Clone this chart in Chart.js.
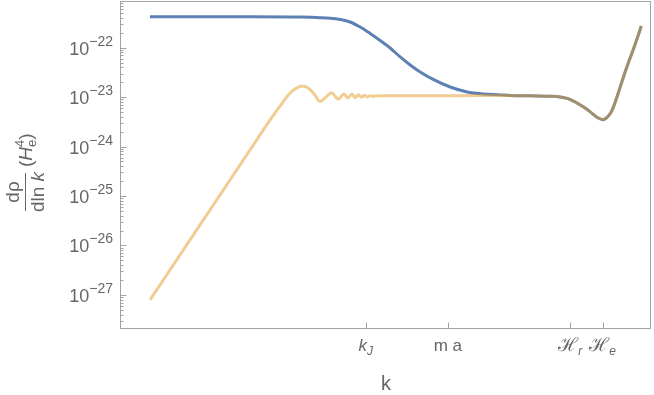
<!DOCTYPE html>
<html>
<head>
<meta charset="utf-8">
<script src="https://cdn.jsdelivr.net/npm/chart.js@4/dist/chart.umd.min.js"></script>
<style>
  html, body { margin: 0; padding: 0; background: #fff; }
  #wrap { width: 654px; height: 395px; }
</style>
</head>
<body>
<div id="wrap"><canvas id="energyChart" width="654" height="395"></canvas></div>
<script>
// log k, arbitrary units (0..10 over the frame)
const blueK = [0.565, 1.5, 2.5, 3.4, 3.77, 3.957, 4.145, 4.334, 4.522, 4.711, 4.899,
  5.088, 5.276, 5.465, 5.653, 5.898, 6.218, 6.539, 6.84, 7.16];
const blueRho = [4.2e-22, 4.2e-22, 4.2e-22, 4.15e-22, 4.05e-22, 3.95e-22, 3.72e-22, 3.31e-22,
  2.62e-22, 1.94e-22, 1.40e-22, 9.86e-23, 6.49e-23, 4.47e-23, 3.23e-23, 2.28e-23,
  1.60e-23, 1.27e-23, 1.16e-23, 1.11e-23];

const goldK = [0.565, 1.507, 2.45, 2.827, 3.015, 3.203, 3.316, 3.43, 3.543, 3.656, 3.769,
  3.882, 3.985, 4.108, 4.221, 4.287, 4.372, 4.428, 4.485, 4.551, 4.598, 4.654, 4.711,
  4.767, 4.899, 5.653, 6.407, 7.16];
const goldRho = [7.93e-28, 2.6e-26, 8.55e-25, 3.45e-24, 6.62e-24, 1.21e-23, 1.5e-23, 1.68e-23,
  1.53e-23, 1.16e-23, 8.17e-24, 1.01e-23, 1.23e-23, 9.18e-24, 1.16e-23, 9.62e-24,
  1.14e-23, 9.75e-24, 1.11e-23, 9.93e-24, 1.09e-23, 1.01e-23, 1.07e-23, 1.04e-23,
  1.06e-23, 1.06e-23, 1.07e-23, 1.08e-23];

// both curves coincide from here on
const tailK = [7.349, 7.726, 8.103, 8.291, 8.423, 8.574, 8.724, 8.856, 8.988, 9.101,
  9.158, 9.214, 9.271, 9.327, 9.384, 9.478, 9.572, 9.667, 9.742, 9.817];
const tailRho = [1.08e-23, 1.06e-23, 1.04e-23, 1.007e-23, 9.4e-24, 7.98e-24, 6.35e-24, 5.02e-24,
  3.88e-24, 3.5e-24, 3.79e-24, 4.36e-24, 5.5e-24, 7.98e-24, 1.21e-23, 2.49e-23, 4.91e-23,
  9.2e-23, 1.57e-22, 2.75e-22];

const xTickPos = [4.63, 6.175, 8.48, 9.09];
const xTickMain = ['k', 'm a', 'ℋ', 'ℋ'];
const xTickSub = ['J', '', 'r', 'e'];
const yTickExp = [-27, -26, -25, -24, -23, -22];

const yMin = Math.pow(10, -27.69);
const yMax = Math.pow(10, -21.056);

function toPoints(ks, vals) {
  return ks.map((k, i) => ({ x: k, y: vals[i] }));
}

const FONT = "'Liberation Sans', Arial, sans-serif";
const TXT = '#666666';
const FRAME = '#a3a3a3';

// draws a row of text pieces; pieces with adv:false don't move the pen
function drawRuns(ctx, parts, x, y, align) {
  let w = 0;
  parts.forEach(p => {
    ctx.font = p.f;
    p.w = ctx.measureText(p.t).width;
    if (p.adv !== false) w += p.w;
  });
  let cx = align === 'center' ? x - w / 2 : (align === 'right' ? x - w : x);
  ctx.textAlign = 'left';
  ctx.textBaseline = 'alphabetic';
  parts.forEach(p => {
    ctx.font = p.f;
    ctx.fillText(p.t, cx, y + (p.dy || 0));
    if (p.adv !== false) cx += p.w;
  });
  return w;
}

const framePlugin = {
  id: 'framePlugin',
  afterDraw(chart) {
    const { ctx, chartArea: a, scales } = chart;
    const xs = scales.x, ys = scales.y;
    const L = Math.round(a.left) + 0.5, R = Math.round(a.right) - 0.5;
    const T = Math.round(a.top) + 0.5, B = Math.round(a.bottom) - 0.5;
    ctx.save();
    ctx.strokeStyle = FRAME;
    ctx.lineWidth = 1;
    ctx.strokeRect(L, T, R - L, B - T);

    // y ticks (inward), minor at 2..9
    ctx.beginPath();
    for (let e = -28; e <= -22; e++) {
      for (let m = 2; m <= 9; m++) {
        const v = m * Math.pow(10, e);
        if (v <= ys.min || v >= ys.max) continue;
        const py = Math.round(ys.getPixelForValue(v)) + 0.5;
        ctx.moveTo(L, py); ctx.lineTo(L + 3, py);
      }
    }
    yTickExp.forEach(e => {
      const py = Math.round(ys.getPixelForValue(Math.pow(10, e))) + 0.5;
      ctx.moveTo(L, py); ctx.lineTo(L + 6, py);
    });
    xTickPos.forEach(k => {
      const px = Math.round(xs.getPixelForValue(k)) + 0.5;
      ctx.moveTo(px, B); ctx.lineTo(px, B - 6);
    });
    ctx.stroke();

    ctx.fillStyle = TXT;
    // y tick labels 10^n
    yTickExp.forEach(e => {
      const py = ys.getPixelForValue(Math.pow(10, e));
      drawRuns(ctx, [
        { t: '10', f: '18px ' + FONT, dy: 7 },
        { t: '\u2212' + Math.abs(e), f: '14px ' + FONT, dy: -2 }
      ], 113, py, 'right');
    });

    // x tick labels
    xTickPos.forEach((k, i) => {
      const px = xs.getPixelForValue(k);
      const isK = xTickMain[i] === 'k';
      const isH = xTickMain[i] === 'ℋ';
      const parts = [{ t: xTickMain[i], f: (isK ? 'italic ' : '') + (isH ? '19px ' : '17px ') + FONT }];
      if (xTickSub[i]) parts.push({ t: xTickSub[i], f: 'italic 12px ' + FONT, dy: 4 });
      drawRuns(ctx, parts, px, 351, 'center');
    });

    // x axis title
    ctx.font = '20px ' + FONT;
    ctx.textAlign = 'center';
    ctx.fillText('k', 386, 390);

    // y axis title: d rho / d ln k (H_e^4), rotated
    ctx.translate(25, 192);
    ctx.rotate(-Math.PI / 2);
    ctx.fillStyle = TXT;
    drawRuns(ctx, [{ t: 'd\u03C1', f: '19px ' + FONT }], 0, -6, 'center');
    drawRuns(ctx, [
      { t: 'dln ', f: '19px ' + FONT },
      { t: 'k', f: 'italic 19px ' + FONT }
    ], 0, 19, 'center');
    ctx.strokeStyle = TXT;
    ctx.beginPath();
    ctx.moveTo(-19, 0.5); ctx.lineTo(19, 0.5);
    ctx.stroke();
    drawRuns(ctx, [
      { t: '(', f: '19px ' + FONT },
      { t: 'H', f: 'italic 19px ' + FONT },
      { t: '4', f: '13px ' + FONT, dy: -8, adv: false },
      { t: 'e', f: '13px ' + FONT, dy: 4 },
      { t: ')', f: '19px ' + FONT }
    ], 25, 7, 'left');
    ctx.restore();
  }
};

new Chart(document.getElementById('energyChart').getContext('2d'), {
  type: 'line',
  data: {
    datasets: [
      {
        label: 'blue',
        data: toPoints(blueK.concat(tailK), blueRho.concat(tailRho)),
        borderColor: '#5E81B5',
        borderWidth: 3,
        cubicInterpolationMode: 'monotone',
        pointRadius: 0,
        fill: false,
        order: 2
      },
      {
        label: 'gold',
        data: toPoints(goldK.concat(tailK), goldRho.concat(tailRho)),
        borderColor: 'rgba(225, 156, 36, 0.5)',
        borderWidth: 3,
        cubicInterpolationMode: 'monotone',
        pointRadius: 0,
        fill: false,
        order: 1
      }
    ]
  },
  options: {
    responsive: false,
    animation: false,
    layout: { padding: { left: 120, right: 3, top: 1, bottom: 66 } },
    scales: {
      x: { type: 'linear', min: 0, max: 10, bounds: 'data', display: false },
      y: { type: 'logarithmic', min: yMin, max: yMax, bounds: 'data', display: false }
    },
    plugins: {
      legend: { display: false },
      tooltip: { enabled: false }
    }
  },
  plugins: [framePlugin]
});
</script>
</body>
</html>
